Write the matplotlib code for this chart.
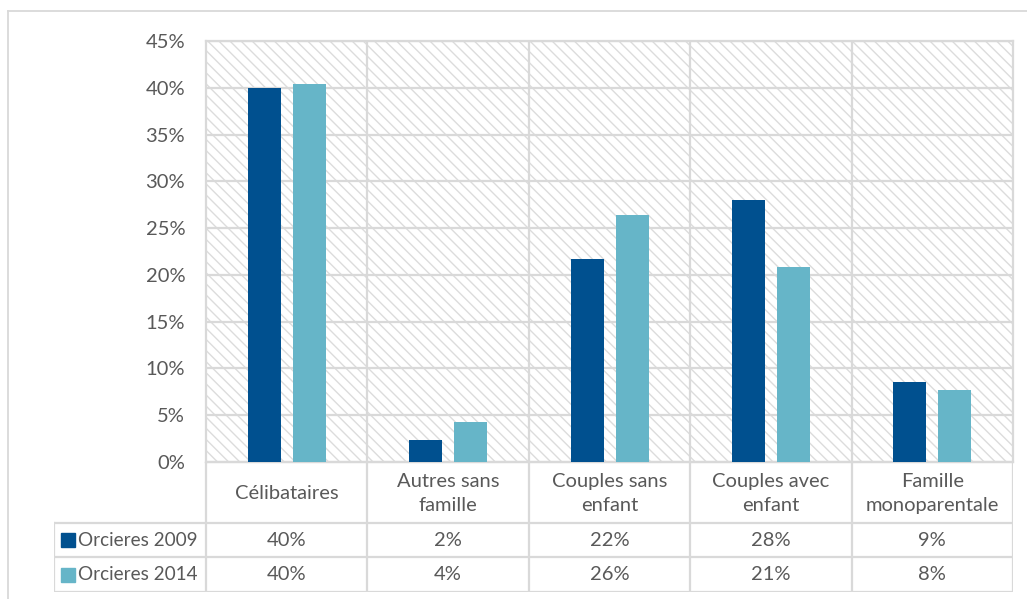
import matplotlib
matplotlib.use("Agg")
import matplotlib.pyplot as plt
from matplotlib.lines import Line2D
from matplotlib.patches import Rectangle

plt.rcParams["font.family"] = ["Lato", "DejaVu Sans"]
plt.rcParams["hatch.linewidth"] = 1.0

categories = ["Célibataires", "Autres sans\nfamille", "Couples sans\nenfant",
              "Couples avec\nenfant", "Famille\nmonoparentale"]
series_names = ["Orcieres 2009", "Orcieres 2014"]
values_2009 = [40.0, 2.4, 21.7, 28.0, 8.55]
values_2014 = [40.4, 4.3, 26.45, 20.8, 7.7]
y_ticks = [0, 5, 10, 15, 20, 25, 30, 35, 40, 45]

colors = ["#00508f", "#66b5c8"]
grid_c = "#d9d9d9"
hatch_c = "#dcdcdc"
text_c = "#595959"
fs = 14.5

W, H = 1027, 599
fig = plt.figure(figsize=(W / 100, H / 100), dpi=100)


def fx(px):
    return px / W


def fy(py):
    return 1 - py / H


# layout in pixels
plot_l, plot_r, plot_t, plot_b = 206, 1013, 41, 462
leg_l = 54
row_lines = [462, 523, 557, 592]

ax = fig.add_axes([fx(plot_l), fy(plot_b), fx(plot_r - plot_l), fy(plot_t) - fy(plot_b)])
n = len(categories)
ax.set_xlim(-0.5, n - 0.5)
ax.set_ylim(0, 45)

# hatched background
ax.add_patch(Rectangle((0, 0), 1, 1, transform=ax.transAxes, facecolor="white",
                       edgecolor=hatch_c, linewidth=0, hatch="\\\\\\", zorder=0))

ax.set_yticks(y_ticks)
ax.set_yticklabels([f"{t}%" for t in y_ticks])
ax.tick_params(axis="y", length=0, pad=15, labelsize=fs, labelcolor=text_c)
ax.tick_params(axis="x", length=0, labelbottom=False)
ax.set_xticks([i + 0.5 for i in range(n - 1)])
ax.grid(True, color=grid_c, linewidth=1.6, zorder=1)
for s in ax.spines.values():
    s.set_color(grid_c)
    s.set_linewidth(1.6)

width = 33 / 161.4
off = 22.5 / 161.4
xs = list(range(n))
ax.bar([x - off for x in xs], values_2009, width=width, color=colors[0], zorder=3)
ax.bar([x + off for x in xs], values_2014, width=width, color=colors[1], zorder=3)

# data table below the plot
tab = fig.add_axes([fx(leg_l), fy(row_lines[-1]), fx(plot_r - leg_l), fy(row_lines[0]) - fy(row_lines[-1])])
cat_w = (plot_r - plot_l) / n
leg_w = (plot_l - leg_l) / cat_w
tab.set_xlim(-0.5 - leg_w, n - 0.5)
tab.set_ylim(row_lines[-1], row_lines[0])
tab.axis("off")

lk = dict(color=grid_c, linewidth=1.6, solid_capstyle="projecting")
# horizontal rules
tab.plot([-0.5, n - 0.5], [row_lines[0]] * 2, **lk)
for yv in row_lines[1:]:
    tab.plot([-0.5 - leg_w, n - 0.5], [yv] * 2, **lk)
# vertical rules
for i in range(n + 1):
    tab.plot([i - 0.5] * 2, [row_lines[0], row_lines[-1]], **lk)
tab.plot([-0.5 - leg_w] * 2, [row_lines[1], row_lines[-1]], **lk)

hdr_y = (row_lines[0] + row_lines[1]) / 2 + 1
for i, c in enumerate(categories):
    tab.text(i, hdr_y, c, ha="center", va="center", fontsize=fs, color=text_c,
             linespacing=1.45)

for r, (name, vals, col) in enumerate(zip(series_names, [values_2009, values_2014], colors)):
    yc = (row_lines[r + 1] + row_lines[r + 2]) / 2
    for i, v in enumerate(vals):
        tab.text(i, yc, f"{v / 100:.0%}", ha="center", va="center", fontsize=fs,
                 color=text_c)
    tab.plot([-0.5 - leg_w + 13.5 / cat_w], [yc], marker="s", markersize=9.5,
             color=col, linestyle="none")
    tab.text(-0.5 - leg_w + 24.5 / cat_w, yc, name, ha="left", va="center",
             fontsize=13.6, color=text_c)

# outer chart frame
fig.add_artist(Line2D([fx(8), 1], [fy(11), fy(11)], color=grid_c, linewidth=1.3))
fig.add_artist(Line2D([fx(8), fx(8)], [fy(11), 0], color=grid_c, linewidth=1.3))

fig.savefig("out.png", dpi=100, facecolor="white")
